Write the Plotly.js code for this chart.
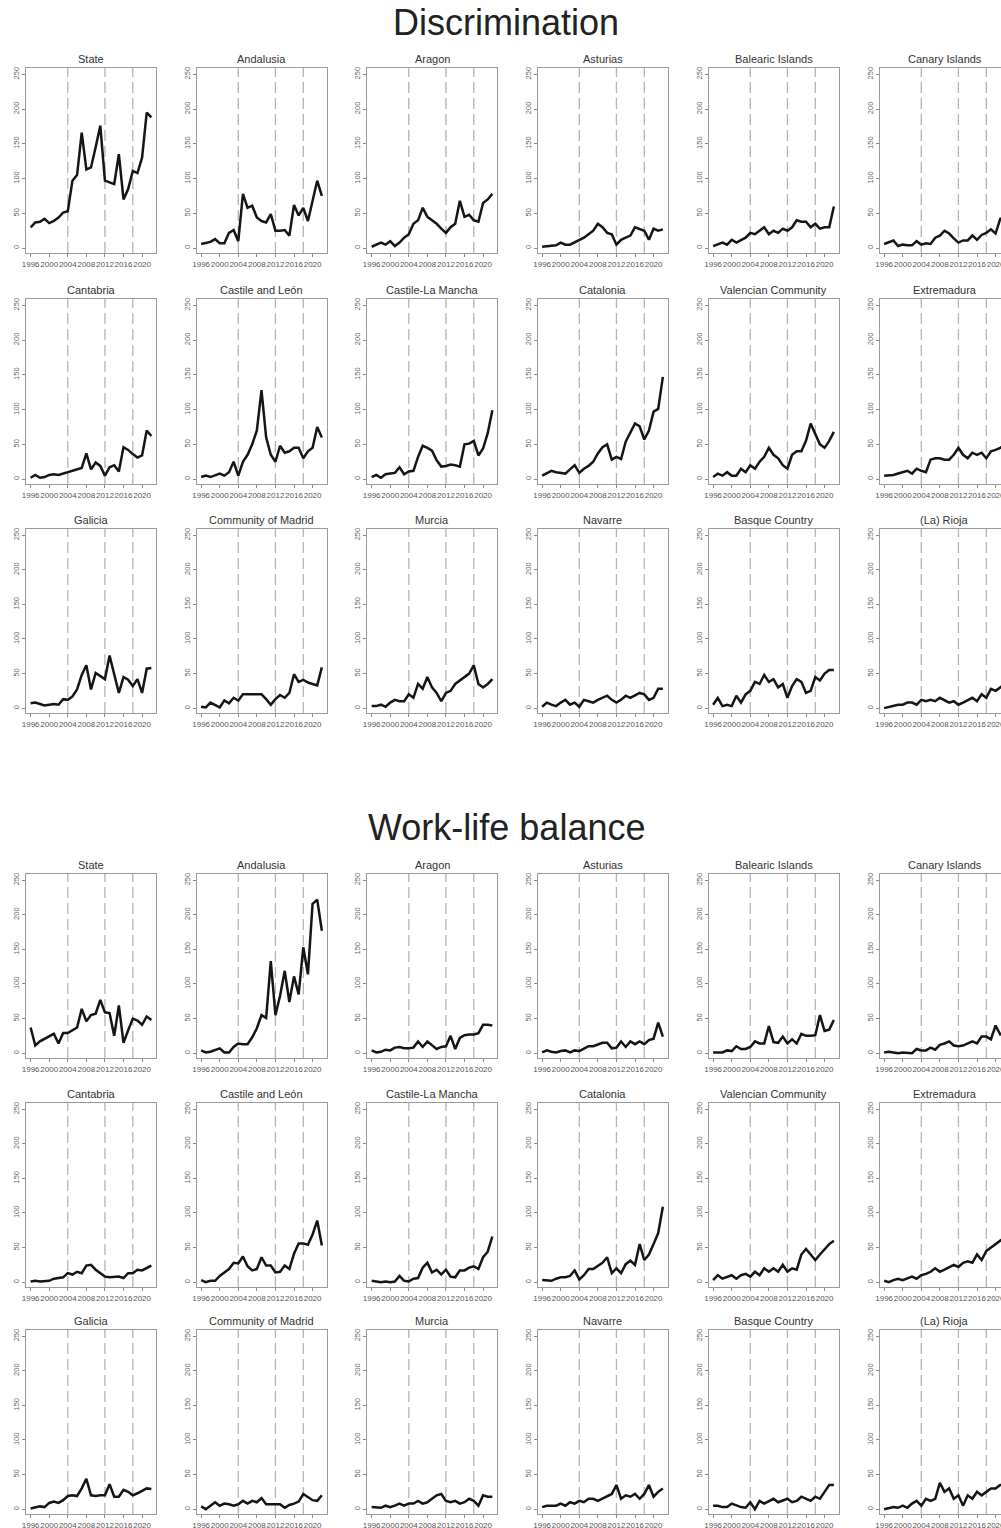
<!DOCTYPE html>
<html>
<head>
<meta charset="utf-8">
<script src="https://cdn.plot.ly/plotly-3.0.1.min.js"></script>
<style>html,body{margin:0;padding:0;overflow:hidden;background:#fff}</style>
</head>
<body>
<div id="chart" style="width:1015px;height:1528px"></div>
<script>
// ---------- DATA ----------
const years = [1996,1997,1998,1999,2000,2001,2002,2003,2004,2005,2006,2007,2008,2009,2010,2011,2012,2013,2014,2015,2016,2017,2018,2019,2020,2021,2022];
const xTickVals = [1996,2000,2004,2008,2012,2016,2020];
const yTickVals = [0,50,100,150,200,250];
const eventYears = [2004,2012,2018];
const sectionTitles = ["Discrimination","Work-life balance"];
const regions = ["State","Andalusia","Aragon","Asturias","Balearic Islands","Canary Islands",
                 "Cantabria","Castile and León","Castile-La Mancha","Catalonia","Valencian Community","Extremadura",
                 "Galicia","Community of Madrid","Murcia","Navarre","Basque Country","(La) Rioja"];

// Discrimination
const discState      = [30,37,38,42,36,39,44,51,53,97,105,166,113,116,145,176,97,94,92,135,70,85,111,108,130,195,188];
const discAndalusia  = [6,8,9,13,7,7,22,26,10,78,58,61,44,39,37,49,25,25,26,18,62,47,58,39,70,97,75];
const discAragon     = [2,5,8,5,10,3,8,15,20,35,40,58,45,40,35,28,22,30,35,68,45,48,40,38,65,70,78];
const discAsturias   = [2,3,3,4,8,5,5,8,12,15,20,25,35,30,22,20,5,12,15,18,30,27,25,12,28,25,27];
const discBalearic   = [3,5,8,5,12,8,12,15,22,20,25,30,20,25,22,28,25,30,40,38,38,30,35,28,30,30,60];
const discCanary     = [6,8,11,3,5,4,4,10,5,7,6,15,18,25,21,14,8,11,11,18,12,19,22,27,21,42,45];
const discCantabria  = [2,6,2,3,6,7,6,8,9,11,14,16,37,14,24,19,5,17,20,11,46,42,36,31,34,70,62];
const discCastileLeon= [3,5,3,5,8,5,10,25,5,25,35,50,70,128,60,35,25,48,38,40,45,45,30,40,45,75,60];
const discCastileLaMancha = [3,6,2,7,8,9,17,7,11,12,32,48,45,41,27,18,19,21,20,18,50,51,55,34,44,66,99];
const discCatalonia  = [5,8,12,10,9,8,14,20,9,15,19,25,37,46,50,28,32,29,54,68,80,76,57,70,97,101,147];
const discValencia   = [3,8,5,10,5,5,15,10,20,15,25,32,45,35,30,20,15,35,40,40,55,80,65,50,45,55,68];
const discExtremadura= [5,5,6,8,10,12,8,15,12,10,28,30,30,28,28,35,45,35,30,38,35,38,30,40,42,45,50];
const discGalicia    = [7,8,6,4,5,6,5,13,12,17,27,48,62,27,51,47,42,76,48,22,45,41,32,42,22,57,58];
const discMadrid     = [2,1,8,5,1,11,7,15,11,20,20,20,19,20,13,5,13,19,15,22,49,38,41,37,35,33,59];
const discMurcia     = [3,3,5,2,8,12,10,10,20,15,35,28,45,30,22,10,22,25,35,40,45,50,62,35,30,35,42];
const discNavarre    = [2,8,5,3,8,12,5,8,2,12,10,8,12,15,18,12,8,12,18,15,18,22,20,12,15,28,28];
const discBasque     = [5,15,3,5,3,18,8,20,25,38,35,48,38,42,30,35,15,32,42,38,22,25,45,40,50,55,55];
const discRioja      = [0,2,3,5,5,8,8,5,12,10,12,10,15,12,8,10,5,8,12,15,10,20,15,28,25,30,35];

// Work-life balance
const wlbState      = [37,11,17,21,25,28,14,29,29,33,37,64,46,55,57,77,59,58,25,69,15,33,50,47,41,53,48];
const wlbAndalusia  = [4,1,2,4,7,1,1,9,14,13,13,23,36,55,51,133,55,83,119,74,111,85,153,114,216,222,177];
const wlbAragon     = [4,1,2,5,4,8,9,7,7,8,17,9,17,11,6,9,10,25,6,22,26,27,27,29,41,41,40];
const wlbAsturias   = [1,4,2,1,3,4,1,4,3,7,10,10,12,15,15,7,8,17,9,17,13,17,13,19,21,44,24];
const wlbBalearic   = [1,1,1,4,3,10,6,6,9,17,14,14,39,16,15,24,14,20,14,28,25,25,26,55,32,34,48];
const wlbCanary     = [1,2,1,0,1,0,0,6,4,4,8,5,12,14,17,11,10,11,14,17,14,24,24,20,40,27,30];
const wlbCantabria  = [1,2,1,1,2,5,6,7,13,11,15,13,24,25,18,13,8,7,7,8,6,13,13,18,17,21,24];
const wlbCastileLeon= [3,0,2,2,9,14,19,28,27,37,23,17,19,36,24,24,14,15,24,19,41,56,56,54,69,89,53];
const wlbCastileLaMancha = [2,1,0,1,0,1,9,2,1,5,6,21,28,14,18,11,18,8,7,17,17,21,23,19,36,44,66];
const wlbCatalonia  = [3,3,2,5,7,7,9,17,4,10,19,19,23,28,36,13,20,13,26,31,25,55,32,40,55,71,109];
const wlbValencia   = [3,10,5,8,10,5,10,12,8,15,10,20,15,20,15,25,15,20,18,40,48,40,32,40,48,55,60];
const wlbExtremadura= [2,0,3,5,3,5,8,5,10,12,15,20,15,18,22,25,22,28,30,28,40,32,45,50,55,60,65];
const wlbGalicia    = [1,3,4,3,9,11,9,13,19,20,19,30,44,20,19,20,20,36,18,18,28,25,20,23,27,30,29];
const wlbMadrid     = [4,0,5,10,5,8,7,5,7,12,8,12,10,16,7,7,7,7,2,6,8,11,22,18,13,12,20];
const wlbMurcia     = [3,3,2,5,3,5,8,5,8,8,12,8,10,15,20,22,12,10,12,8,10,15,12,5,20,18,18];
const wlbNavarre    = [3,5,5,5,8,5,10,8,12,10,15,15,12,15,18,22,35,15,20,18,22,15,22,35,18,25,30];
const wlbBasque     = [5,5,3,3,8,5,3,2,10,0,12,8,12,15,10,12,15,10,12,18,15,12,18,15,25,35,35];
const wlbRioja      = [0,2,3,2,5,2,8,12,5,15,12,15,38,25,30,15,20,5,20,15,25,20,25,30,30,35,35];

const sections = [
  [discState,discAndalusia,discAragon,discAsturias,discBalearic,discCanary,
   discCantabria,discCastileLeon,discCastileLaMancha,discCatalonia,discValencia,discExtremadura,
   discGalicia,discMadrid,discMurcia,discNavarre,discBasque,discRioja],
  [wlbState,wlbAndalusia,wlbAragon,wlbAsturias,wlbBalearic,wlbCanary,
   wlbCantabria,wlbCastileLeon,wlbCastileLaMancha,wlbCatalonia,wlbValencia,wlbExtremadura,
   wlbGalicia,wlbMadrid,wlbMurcia,wlbNavarre,wlbBasque,wlbRioja]
];

// ---------- LAYOUT ----------
const W = 1015, H = 1528;
const colLeft = [26,196.5,367,537.5,708.5,879.5];
const plotW = 130;
const rowTop = [[68,299,529],[874,1103,1330]];
const rowH = [[185,185,184],[184,184,184]];
const sectionTitleY = [22,827];

const traces = [];
const layout = {
  width: W, height: H,
  margin: {l:0,r:0,t:0,b:0},
  paper_bgcolor: '#ffffff', plot_bgcolor: '#ffffff',
  showlegend: false,
  font: {family: 'Liberation Sans, Arial, sans-serif', color: '#333'},
  annotations: [], shapes: []
};

sections.forEach((series, s) => {
  layout.annotations.push({
    text: sectionTitles[s], xref: 'paper', yref: 'paper',
    x: 506 / W, y: 1 - sectionTitleY[s] / H, xanchor: 'center', yanchor: 'middle',
    showarrow: false, font: {size: 36, color: '#222'}
  });
  series.forEach((vals, p) => {
    const n = s * 18 + p + 1;
    const row = Math.floor(p / 6), col = p % 6;
    const xa = n === 1 ? 'xaxis' : 'xaxis' + n;
    const ya = n === 1 ? 'yaxis' : 'yaxis' + n;
    const xr = n === 1 ? 'x' : 'x' + n;
    const yr = n === 1 ? 'y' : 'y' + n;
    const left = colLeft[col], top = rowTop[s][row], ph = rowH[s][row];
    layout[xa] = {
      domain: [left / W, (left + plotW) / W], anchor: yr,
      range: [1995, 2023], tickmode: 'array', tickvals: xTickVals, tickangle: 0,
      showline: true, mirror: true, linecolor: '#9a9a9a', linewidth: 1,
      ticks: 'outside', ticklen: 3, tickcolor: '#8a8a8a', tickwidth: 1,
      tickfont: {size: 8, color: '#555'}, showgrid: false, zeroline: false, fixedrange: true
    };
    layout[ya] = {
      domain: [1 - (top + ph) / H, 1 - top / H], anchor: xr,
      range: [-7, 259], tickmode: 'array', tickvals: yTickVals, tickangle: -90,
      showline: true, mirror: true, linecolor: '#9a9a9a', linewidth: 1,
      ticks: 'outside', ticklen: 3, tickcolor: '#8a8a8a', tickwidth: 1,
      tickfont: {size: 7.5, color: '#666'}, showgrid: false, zeroline: false, fixedrange: true
    };
    layout.annotations.push({
      text: regions[p], xref: 'paper', yref: 'paper',
      x: (left + plotW / 2) / W, y: 1 - (top - 1) / H, xanchor: 'center', yanchor: 'bottom',
      showarrow: false, font: {size: 11, color: '#333'}
    });
    eventYears.forEach(ev => {
      layout.shapes.push({
        type: 'line', layer: 'below', xref: xr, yref: yr + ' domain',
        x0: ev, x1: ev, y0: 0, y1: 1,
        line: {color: '#b4b4b4', width: 1.3, dash: '11px,5px'}
      });
    });
    traces.push({
      x: years, y: vals, xaxis: xr, yaxis: yr, type: 'scatter', mode: 'lines',
      line: {color: '#151515', width: 2.5}, hoverinfo: 'skip', showlegend: false
    });
  });
});

Plotly.newPlot('chart', traces, layout, {staticPlot: true, displayModeBar: false});
</script>
</body>
</html>
